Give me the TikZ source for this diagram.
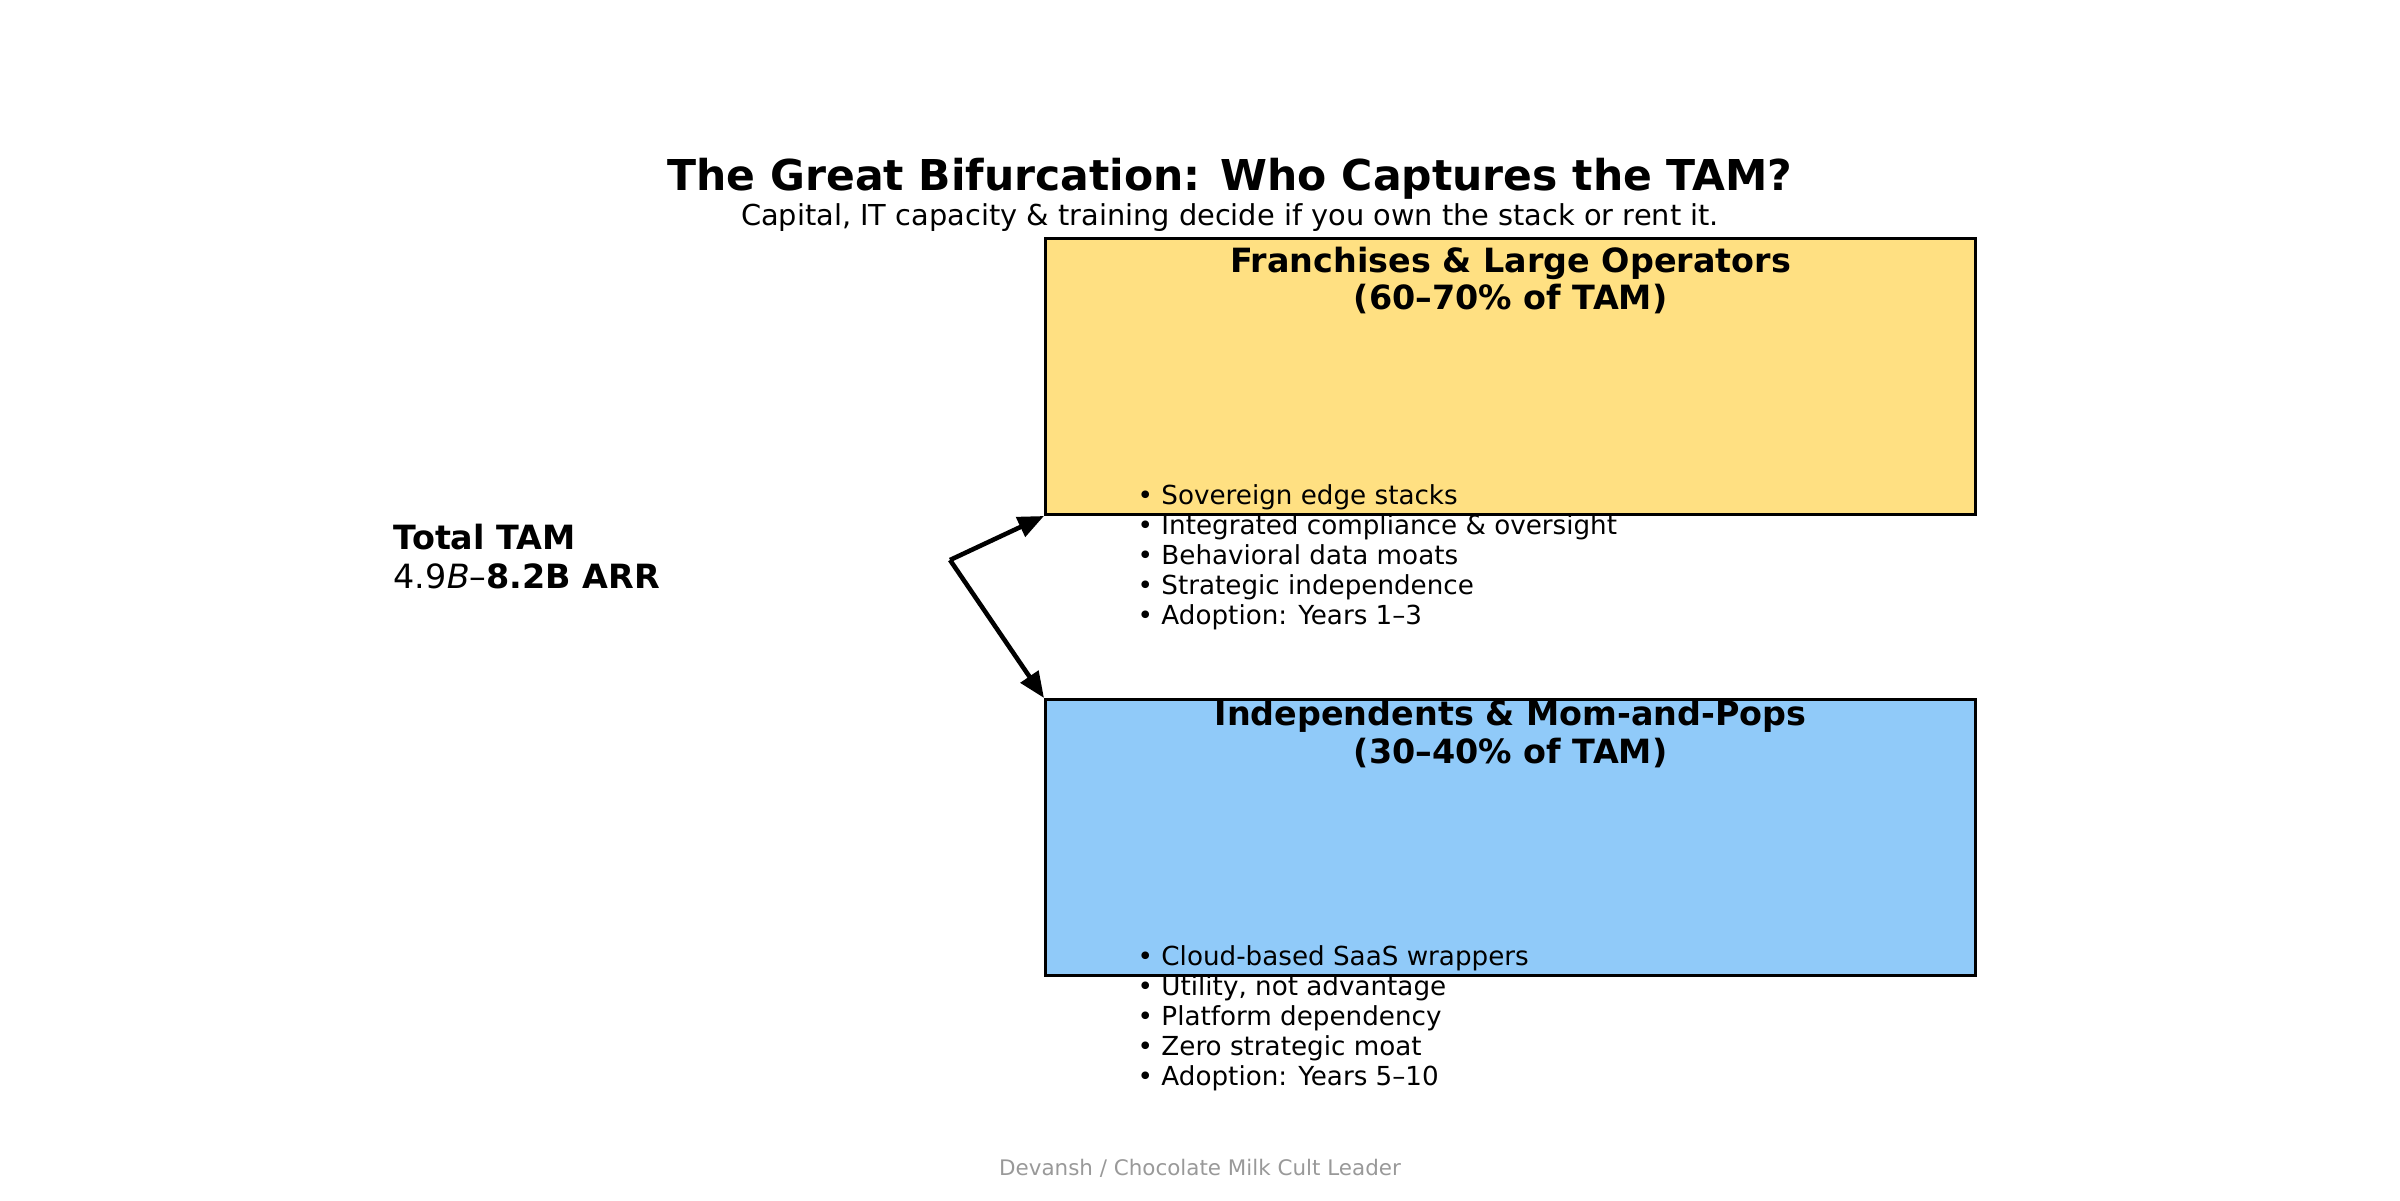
\documentclass[tikz,border=0pt]{standalone}
\usepackage{fontspec}
\setmainfont{DejaVu Sans}
\usepackage{xcolor}
\usepackage{tikz}
\usetikzlibrary{arrows.meta,positioning,calc}
\definecolor{franch}{HTML}{FFE082}
\definecolor{indep}{HTML}{90CAF9}
\definecolor{credit}{HTML}{999999}

\begin{document}
\begin{tikzpicture}[
    seg/.style={draw=black, line width=0.85pt, minimum width=9.30cm, minimum height=2.76cm,
                anchor=north west, inner sep=0pt},
    head/.style={font=\fontsize{9.5}{10.8}\selectfont\bfseries, align=center, inner sep=0pt},
    pts/.style={font=\fontsize{7.45}{8.5}\selectfont, align=left, anchor=base west, inner sep=0pt},
    arr/.style={-{Triangle[length=2.6mm, width=2.1mm]}, line width=1.3pt, black}]
    \useasboundingbox (0,0) rectangle (24,12);
    \node[font=\fontsize{12.1}{14}\selectfont\bfseries, anchor=base] (title) at (12.30,10.09)
      {The Great Bifurcation: Who Captures the TAM?};
    \node[font=\fontsize{8.2}{9.5}\selectfont, anchor=base] (sub) at (12.30,9.74)
      {Capital, IT capacity \& training decide if you own the stack or rent it.};
    \node[seg, fill=franch] (big) at (10.44,9.63) {};
    \node[seg, fill=indep] (small) at (10.44,5.02) {};
    \node[head, anchor=base] (bighead) at ($(big.north)+(0,-0.73)$)
      {Franchises \& Large Operators\\(60–70\% of TAM)};
    \node[head, anchor=base] (smallhead) at ($(small.north)+(0,-0.65)$)
      {Independents \& Mom-and-Pops\\(30–40\% of TAM)};
    \node[pts] (bigpts) at (11.37,5.76)
      {• Sovereign edge stacks\\• Integrated compliance \& oversight\\• Behavioral data moats\\• Strategic independence\\• Adoption: Years 1–3};
    \node[pts] (smallpts) at (11.37,1.15)
      {• Cloud-based SaaS wrappers\\• Utility, not advantage\\• Platform dependency\\• Zero strategic moat\\• Adoption: Years 5–10};
    \node[font=\fontsize{9.5}{10.9}\selectfont, align=left, anchor=base west, inner sep=0pt] (tam) at (3.93,6.12)
      {\textbf{Total TAM}\\4.9\textit{B}–\textbf{8.2B ARR}};
    \coordinate (split) at (9.50,6.40);
    \draw[arr] (split) -- (big.south west);
    \draw[arr] (split) -- (small.north west);
    \node[font=\fontsize{6.1}{7}\selectfont, text=credit, anchor=base] (credit) at (12.00,0.25)
      {Devansh / Chocolate Milk Cult Leader};
  \end{tikzpicture}
\end{document}
